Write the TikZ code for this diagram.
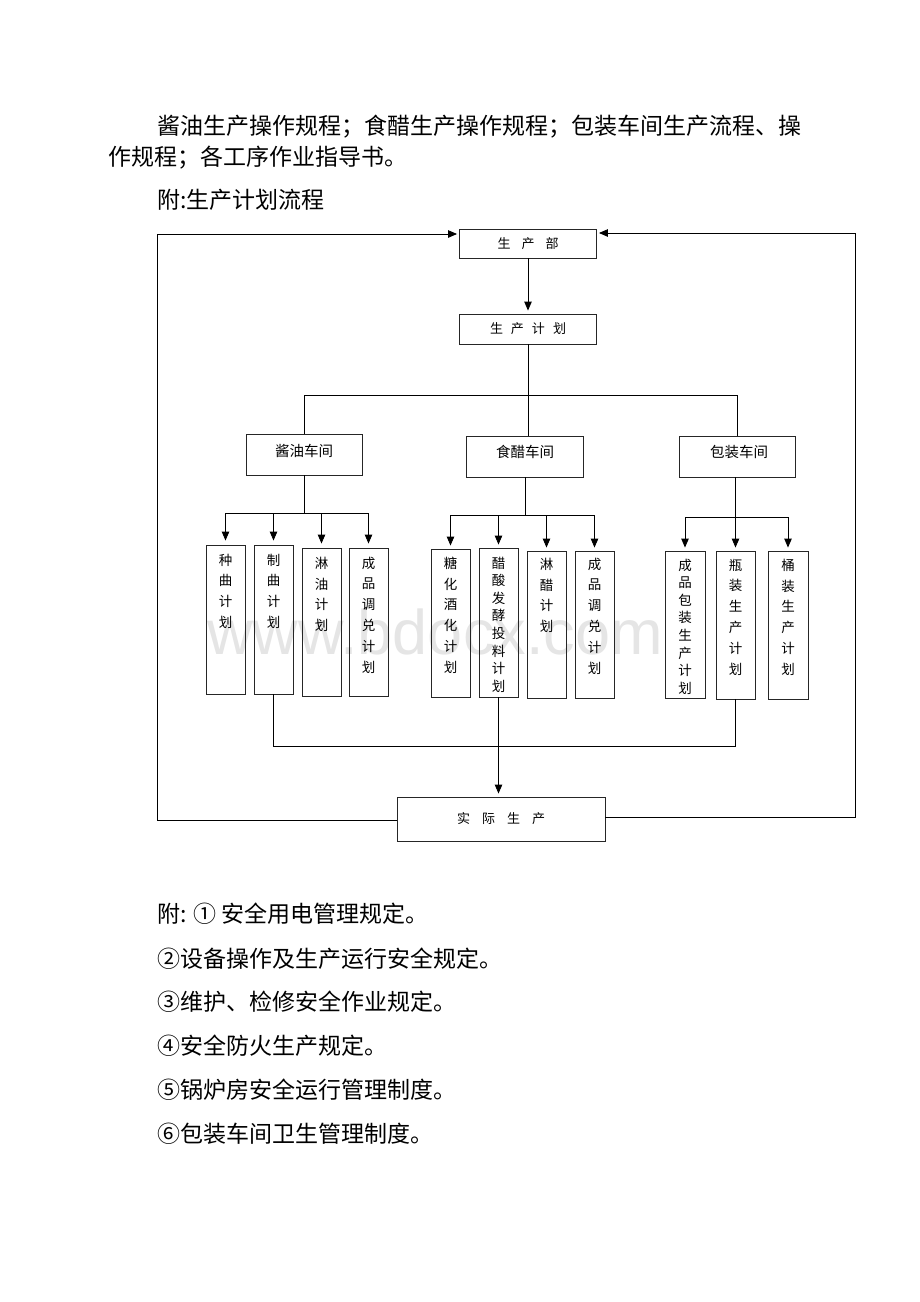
\documentclass[tikz,border=0pt]{standalone}
\usepackage{fontspec}
\setmainfont{Noto Sans CJK SC}
\newfontfamily\wmfont{Liberation Sans}
\usetikzlibrary{arrows.meta}
\begin{document}
\begin{tikzpicture}[x=1pt,y=-1pt,
  box/.style={draw=black!85, line width=0.9pt, inner sep=0pt},
  ln/.style={line width=0.9pt},
  arr/.style={ln, -{Triangle[length=9pt,width=7.5pt]}},
  vt/.style={inner sep=0pt, align=center, anchor=north, font=\fontsize{13.5}{20.9}\selectfont},
  vt8/.style={inner sep=0pt, align=center, anchor=north, font=\fontsize{13.5}{17.6}\selectfont},
  ht/.style={inner sep=0pt, font=\fontsize{13}{15}\selectfont},
  wt/.style={inner sep=0pt, font=\fontsize{14.5}{16}\selectfont},
  para/.style={inner sep=0pt, anchor=west, font=\fontsize{23}{26}\selectfont},
  lst/.style={inner sep=0pt, anchor=west, font=\fontsize{23}{26}\selectfont}
]
\useasboundingbox (0,0) rectangle (920,1302);
\fill[white] (0,0) rectangle (920,1302);

% watermark
\node[inner sep=0pt, text=black!10, font=\wmfont\fontsize{63}{70}\selectfont] (wm) at (435,632) {www.bdocx.com};

% top paragraph
\node[para] (p1) at (157,127) {酱油生产操作规程；食醋生产操作规程；包装车间生产流程、操};
\node[para] (p2) at (108,158) {作规程；各工序作业指导书。};
\node[para] (p3) at (157,200) {附:生产计划流程};

% main boxes
\node[box, minimum width=137pt, minimum height=29pt] (bu) at (528,243.5) {};
\node[ht] (but) at (bu.center) {生\hspace{11pt}产\hspace{11pt}部};
\node[box, minimum width=137pt, minimum height=30pt] (jh) at (528,329) {};
\node[ht] (jht) at (jh.center) {生\hspace{8pt}产\hspace{8pt}计\hspace{8pt}划};

\node[box, minimum width=116pt, minimum height=41pt] (jy) at (304,454.5) {};
\node[wt] (jyt) at (304,451) {酱油车间};
\node[box, minimum width=117pt, minimum height=41pt] (sc) at (525,456.5) {};
\node[wt] (sct) at (525,452) {食醋车间};
\node[box, minimum width=116pt, minimum height=41pt] (bz) at (737,456.5) {};
\node[wt] (bzt) at (739,452) {包装车间};

% soy sauce sub-boxes
\node[box, minimum width=39pt, minimum height=149pt] (a1) at (225.5,619.5) {};
\node[vt] (a1t) at ([yshift=-9pt]a1.north) {种\\曲\\计\\划};
\node[box, minimum width=39pt, minimum height=149pt] (a2) at (273.5,619.5) {};
\node[vt] (a2t) at ([yshift=-9pt]a2.north) {制\\曲\\计\\划};
\node[box, minimum width=39pt, minimum height=148pt] (a3) at (321.5,622) {};
\node[vt] (a3t) at ([yshift=-9pt]a3.north) {淋\\油\\计\\划};
\node[box, minimum width=39pt, minimum height=148pt] (a4) at (368.5,622) {};
\node[vt] (a4t) at ([yshift=-9pt]a4.north) {成\\品\\调\\兑\\计\\划};

% vinegar sub-boxes
\node[box, minimum width=39pt, minimum height=148pt] (b1) at (450.5,623) {};
\node[vt] (b1t) at ([yshift=-8pt]b1.north) {糖\\化\\酒\\化\\计\\划};
\node[box, minimum width=39pt, minimum height=149pt] (b2) at (498.5,622.5) {};
\node[vt8] (b2t) at ([yshift=-9pt]b2.north) {醋\\酸\\发\\酵\\投\\料\\计\\划};
\node[box, minimum width=39pt, minimum height=147pt] (b3) at (546.5,624.5) {};
\node[vt] (b3t) at ([yshift=-7pt]b3.north) {淋\\醋\\计\\划};
\node[box, minimum width=39pt, minimum height=147pt] (b4) at (594.5,624.5) {};
\node[vt] (b4t) at ([yshift=-7pt]b4.north) {成\\品\\调\\兑\\计\\划};

% packaging sub-boxes
\node[box, minimum width=40pt, minimum height=147pt] (c1) at (685,624.5) {};
\node[vt8] (c1t) at ([yshift=-8pt]c1.north) {成\\品\\包\\装\\生\\产\\计\\划};
\node[box, minimum width=39pt, minimum height=148pt] (c2) at (735.5,625) {};
\node[vt] (c2t) at ([yshift=-8pt]c2.north) {瓶\\装\\生\\产\\计\\划};
\node[box, minimum width=40pt, minimum height=148pt] (c3) at (788,625) {};
\node[vt] (c3t) at ([yshift=-8pt]c3.north) {桶\\装\\生\\产\\计\\划};

% actual production
\node[box, minimum width=208pt, minimum height=44pt] (sj) at (501,819) {};
\node[ht] (sjt) at (sj.center) {实\hspace{12pt}际\hspace{12pt}生\hspace{12pt}产};

% connectors
\draw[arr] (bu.south) -- ([yshift=3pt]jh.north);
\coordinate (br) at (528,395);
\draw[ln] (jh.south) -- (br);
\draw[ln] (jy.north) -- (jy.north |- br) -- (bz.north |- br) -- (bz.north);
\draw[ln] (br) -- (br |- sc.north);

\coordinate (ja) at (304,513);
\draw[ln] (jy.south) -- (ja);
\draw[ln] (a1.north |- ja) -- (a4.north |- ja);
\foreach \n in {a1,a2,a3,a4} \draw[arr] (\n.north |- ja) -- ([yshift=4pt]\n.north);

\coordinate (sa) at (525,515);
\draw[ln] (sc.south) -- (sa);
\draw[ln] (b1.north |- sa) -- (b4.north |- sa);
\foreach \n in {b1,b2,b3,b4} \draw[arr] (\n.north |- sa) -- ([yshift=3pt]\n.north);

\coordinate (pa) at (735.5,517);
\draw[ln] (c2.north |- bz.south) -- (pa);
\draw[ln] (c1.north |- pa) -- (c3.north |- pa);
\foreach \n in {c1,c2,c3} \draw[arr] (\n.north |- pa) -- ([yshift=3pt]\n.north);

\coordinate (bl) at (273.5,746);
\draw[ln] (a2.south) -- (bl) -- (c2.south |- bl) -- (c2.south);
\draw[arr] (b2.south) -- ([yshift=3pt]b2.south |- sj.north);

% feedback loops
\coordinate (lt) at (157,234);
\coordinate (lb) at (157,820);
\coordinate (rt) at (855,233);
\coordinate (rb) at (855,817);
\draw[ln] (sj.west |- lb) -- (lb) -- (lt);
\draw[arr] (lt) -- ([xshift=-2pt]bu.west |- lt);
\draw[ln] (sj.east |- rb) -- (rb) -- (rt);
\draw[arr] (rt) -- ([xshift=2pt]bu.east |- rt);

% bottom list
\node[lst] (l1) at (157,914) {附: ① 安全用电管理规定。};
\node[lst] (l2) at (157,959) {②设备操作及生产运行安全规定。};
\node[lst] (l3) at (157,1002) {③维护、检修安全作业规定。};
\node[lst] (l4) at (157,1046) {④安全防火生产规定。};
\node[lst] (l5) at (157,1090) {⑤锅炉房安全运行管理制度。};
\node[lst] (l6) at (157,1134) {⑥包装车间卫生管理制度。};
\end{tikzpicture}
\end{document}
